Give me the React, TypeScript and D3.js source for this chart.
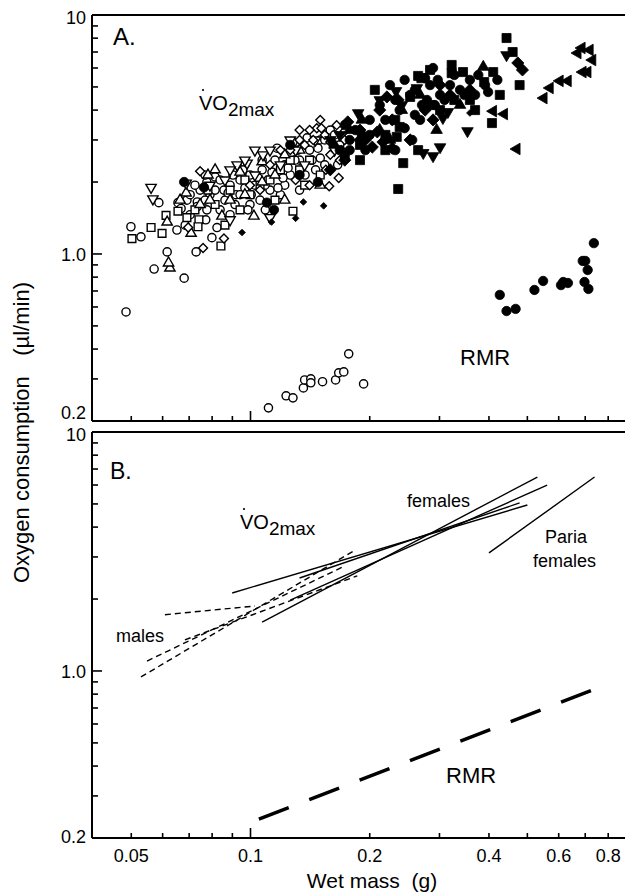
import React from 'react';
import * as d3 from 'd3';

type P = [number, number];

// ---- Panel A: VO2max scatter (wet mass g, oxygen consumption µl/min) ----
const openCircle: P[] = [[0.0485,0.572],[0.0499,1.30],[0.0529,1.18],[0.0587,1.64],[0.0616,1.02],[0.0571,0.865],[0.068,0.792],[0.0652,1.26],[0.0656,1.64],[0.0668,1.55],[0.0691,1.68],[0.0734,1.65],[0.0734,1.58],[0.0776,1.53],[0.0776,2.00],[0.0814,2.10],[0.0823,1.29],[0.0799,1.17],[0.0729,1.02],[0.0857,1.85],[0.0888,1.94],[0.0919,1.77],[0.0941,2.04],[0.0968,1.89],[0.0997,2.14],[0.1026,1.94],[0.107,2.25],[0.1107,2.04],[0.1167,2.77],[0.128,2.94],[0.139,3.06],[0.133,2.47],[0.122,2.36],[0.1153,2.47],[0.126,2.14],[0.141,2.72],[0.150,2.52],[0.159,3.30],[0.150,3.00],[0.1057,1.68],[0.0997,1.61],[0.0914,1.61],[0.0862,1.68],[0.079,1.77],[0.0746,1.85],[0.112,1.85],[0.119,1.77],[0.0888,1.46],[0.133,1.85],[0.146,2.25],[0.0838,1.53],[0.0771,1.39],[0.109,1.53],[0.122,1.94],[0.168,2.86],[0.154,2.36],[0.0704,1.46],[0.0968,2.36],
  [0.0704,1.77],[0.0724,1.94],[0.0768,1.68],[0.0814,1.85],[0.0838,2.04],[0.0878,1.80],[0.0903,2.14],[0.0957,2.25],[0.1004,1.77],[0.1045,2.08],[0.1088,1.94],[0.1133,2.20],[0.1173,1.89],[0.1208,2.08],[0.1244,2.29],[0.1295,2.47],[0.1318,2.72],[0.1373,2.14],[0.143,2.47],[0.148,2.77],[0.154,3.00],[0.163,3.15],[0.166,2.36],[0.107,2.47],[0.0985,1.53],[0.0941,1.77],[0.0768,2.14],[0.0684,1.32]];
const openSquare: P[] = [[0.0502,1.16],[0.0561,1.29],[0.0598,1.22],[0.0612,1.45],[0.0656,1.51],[0.0691,1.42],[0.0741,1.39],[0.0737,1.30],[0.0842,1.08],[0.128,1.51],[0.0997,1.77],[0.0888,1.85],[0.112,2.04],[0.126,2.47],[0.133,2.25],[0.0814,1.61],[0.0941,1.53],[0.1057,1.94],[0.119,2.25],[0.141,2.47],[0.150,2.14],[0.0862,1.32],[0.0781,1.85],[0.0968,2.04],[0.1153,1.68],[0.137,1.94],[0.0724,1.53]];
const openTriUp: P[] = [[0.0616,1.36],[0.0688,1.80],[0.0708,1.22],[0.0847,1.44],[0.102,1.44],[0.0626,0.873],[0.0621,0.917],[0.0781,2.14],[0.0941,2.20],[0.107,2.43],[0.1153,2.14],[0.0888,1.68],[0.079,1.68],[0.0968,1.77],[0.122,2.60],[0.133,2.72],[0.0746,1.61],[0.0664,1.68],[0.0814,2.25],[0.107,2.00],[0.122,1.68],[0.150,1.94]];
const openTriDown: P[] = [[0.0561,1.90],[0.0567,1.70],[0.0688,1.98],[0.0888,1.39],[0.0925,2.36],[0.098,2.40],[0.1075,2.60],[0.112,1.42],[0.119,2.36],[0.130,2.72],[0.1026,2.14],[0.0862,2.04],[0.146,3.00],[0.137,2.36],[0.163,2.72],[0.079,1.94],[0.0968,2.47],[0.1026,2.72],[0.112,2.72],[0.126,3.00],[0.0888,2.25]];
const openDiamond: P[] = [[0.0746,2.22],[0.0696,1.29],[0.0759,1.06],[0.0857,1.16],[0.147,3.36],[0.167,2.08],[0.158,1.92],[0.141,3.30],[0.133,3.00],[0.150,3.64],[0.154,3.15],[0.126,2.72],[0.119,2.72],[0.159,2.60],[0.168,2.47],[0.130,2.04],[0.141,1.94],[0.173,3.00],[0.1057,1.85],[0.0997,1.94],[0.112,2.36],[0.133,3.30],[0.137,2.86],[0.144,3.00],[0.151,3.36],[0.159,2.94],[0.165,3.46],[0.170,2.72],[0.155,2.25],[0.173,3.27]];
const filledCircle: P[] = [[0.068,2.00],[0.0763,1.90],[0.110,1.64],[0.1146,1.53],[0.126,2.86],[0.148,2.00],[0.184,3.30],[0.191,3.15],[0.245,3.36],[0.26,3.82],[0.271,4.20],[0.279,4.41],[0.289,6.00],[0.168,2.72],[0.178,3.00],[0.2,3.64],[0.212,4.20],[0.232,4.41],[0.301,4.63],[0.319,5.09],[0.338,4.86],[0.358,5.35],[0.369,4.63],[0.391,5.09],[0.284,5.09],[0.253,4.63],[0.195,2.72],[0.173,3.46],[0.133,2.14],
  [0.225,5.09],[0.245,5.35],[0.26,4.86],[0.276,5.44],[0.297,5.35],[0.309,4.41],[0.327,5.61],[0.347,4.63],[0.376,5.61],[0.398,4.76],[0.42,5.35],[0.268,3.64],[0.292,4.20],[0.238,4.00],[0.219,3.64],[0.2,3.15],[0.178,2.72],[0.256,3.00],[0.232,2.72]];
const filledSquare: P[] = [[0.206,4.86],[0.253,4.54],[0.265,5.56],[0.322,6.18],[0.238,3.40],[0.234,3.09],[0.265,2.72],[0.243,2.40],[0.236,1.87],[0.443,8.01],[0.459,7.00],[0.478,5.09],[0.407,3.53],[0.27,5.44],[0.322,5.71],[0.344,5.77],[0.41,5.77],[0.389,5.24],[0.189,2.86],[0.219,2.72],[0.301,4.00],[0.358,4.41],[0.327,4.41],[0.284,4.20],[0.232,3.64],[0.173,2.60],[0.284,5.89],[0.369,4.00],[0.426,4.63],[0.219,3.15],[0.189,2.47]];
const filledTriUp: P[] = [[0.191,3.64],[0.295,3.30],[0.387,6.06],[0.241,4.00],[0.178,3.30],[0.212,3.30],[0.268,4.63],[0.338,4.20],[0.225,3.00],[0.163,2.86]];
const filledTriDown: P[] = [[0.187,3.89],[0.233,4.81],[0.315,3.93],[0.306,3.71],[0.273,2.65],[0.289,2.57],[0.301,2.80],[0.353,3.27],[0.443,6.80],[0.263,4.95],[0.241,4.20],[0.212,4.41],[0.168,3.15],[0.159,3.00]];
const filledDiamondSmall: P[] = [[0.0952,1.23],[0.113,1.36],[0.130,1.41],[0.136,1.65],[0.153,1.59],[0.358,3.89]];
const filledDiamond: P[] = [[0.176,3.57],[0.221,4.54],[0.212,4.00],[0.228,3.64],[0.209,3.24],[0.216,2.94],[0.203,2.80],[0.228,2.77],[0.289,3.64],[0.473,6.30],[0.486,5.89],[0.189,3.30],[0.253,3.00],[0.276,4.00],[0.319,4.63],[0.195,3.00],[0.236,4.41],[0.301,5.09],[0.358,4.86],[0.189,3.00],[0.173,2.47],[0.159,2.25]];
const filledTriLeft: P[] = [[0.686,7.28],[0.719,7.14],[0.73,6.48],[0.67,6.93],[0.69,5.77],[0.71,5.77],[0.604,5.30],[0.633,5.30],[0.57,4.95],[0.55,4.49],[0.41,3.96],[0.437,3.85],[0.47,2.75]];

// ---- Panel A: RMR ----
const rmrOpen: P[] = [[0.111,0.227],[0.123,0.255],[0.128,0.250],[0.136,0.275],[0.137,0.297],[0.142,0.300],[0.142,0.289],[0.152,0.292],[0.164,0.297],[0.167,0.318],[0.172,0.321],[0.177,0.382],[0.193,0.286]];
const rmrFilled: P[] = [[0.426,0.674],[0.443,0.577],[0.467,0.589],[0.521,0.707],[0.548,0.771],[0.608,0.741],[0.616,0.763],[0.633,0.756],[0.69,0.935],[0.70,0.935],[0.71,0.857],[0.697,0.763],[0.713,0.714],[0.736,1.11]];

// ---- Panel B: regression lines ----
const femaleLines: P[][] = [
  [[0.0899,2.12],[0.500,4.95]],
  [[0.107,1.60],[0.530,6.48]],
  [[0.126,1.98],[0.561,6.00]],
  [[0.133,2.45],[0.478,5.05]],
];
const maleLines: P[][] = [
  [[0.0608,1.72],[0.1026,1.87]],
  [[0.0529,0.944],[0.184,3.21]],
  [[0.0548,1.10],[0.173,2.75]],
  [[0.0683,1.35],[0.186,2.50]],
];
const pariaLine: P[] = [[0.400,3.12],[0.739,6.48]];
const rmrLine: P[] = [[0.105,0.240],[0.753,0.849]];

// ---- Axes ----
const xTicks = [0.05,0.06,0.07,0.08,0.09,0.1,0.2,0.3,0.4,0.5,0.6,0.7,0.8,0.9];
const xMajor = [0.1];
const xTickLabels = [0.05,0.1,0.2,0.4,0.6,0.8];
const yTicks = [0.3,0.4,0.5,0.6,0.7,0.8,0.9,1,2,3,4,5,6,7,8,9,10];
const yMajor = [1,10];

const FONT = "'Liberation Sans', Arial, Helvetica, sans-serif";

const x = d3.scaleLog().domain([0.1, 0.8]).range([250.5, 608.2]);
const yA = d3.scaleLog().domain([0.2, 10]).range([421, 15]);
const yB = d3.scaleLog().domain([0.2, 10]).range([838, 432]);
const X0 = 92;
const XR = 640;

const tri = d3.symbol().type(d3.symbolTriangle).size(46)()!;
const triBig = d3.symbol().type(d3.symbolTriangle).size(58)()!;
const sq = d3.symbol().type(d3.symbolSquare).size(60)()!;
const sqBig = d3.symbol().type(d3.symbolSquare).size(82)()!;
const diam = d3.symbol().type(d3.symbolSquare).size(40)()!;
const diamBig = d3.symbol().type(d3.symbolSquare).size(74)()!;
const diamSmall = d3.symbol().type(d3.symbolSquare).size(22)()!;

function Markers({ data, kind, filled }: { data: P[]; kind: string; filled: boolean }) {
  const fill = filled ? '#000' : '#fff';
  return (
    <g fill={fill} stroke="#000" strokeWidth={filled ? 0.8 : 1.4}>
      {data.map((d, i) => {
        const cx = x(d[0]);
        const cy = yA(d[1]);
        if (kind === 'circle') return <circle key={i} cx={cx} cy={cy} r={filled ? 4.7 : 4.1} />;
        let path = sq;
        let rot = 0;
        if (kind === 'square') path = filled ? sqBig : sq;
        if (kind === 'triUp') { path = filled ? triBig : tri; rot = 0; }
        if (kind === 'triDown') { path = filled ? triBig : tri; rot = 180; }
        if (kind === 'triLeft') { path = triBig; rot = -90; }
        if (kind === 'diamond') { path = filled ? diamBig : diam; rot = 45; }
        if (kind === 'diamondSmall') { path = diamSmall; rot = 45; }
        return <path key={i} d={path} transform={`translate(${cx},${cy}) rotate(${rot})`} />;
      })}
    </g>
  );
}

function Axes({ y, top, bottom, labels }: { y: d3.ScaleLogarithmic<number, number>; top: number; bottom: number; labels: { v: number; t: string; dy: number }[] }) {
  return (
    <g>
      <line x1={X0} x2={XR} y1={top} y2={top} stroke="#000" strokeWidth={2} />
      <line x1={X0} x2={XR} y1={bottom} y2={bottom} stroke="#000" strokeWidth={2} />
      <line x1={X0} x2={X0} y1={top} y2={bottom} stroke="#000" strokeWidth={2} />
      {yTicks.map((t) => (
        <line key={'y' + t} x1={X0} x2={X0 + (yMajor.includes(t) ? 10 : 6)} y1={y(t)} y2={y(t)} stroke="#000" strokeWidth={1.6} />
      ))}
      {xTicks.map((t) => (
        <line key={'x' + t} x1={x(t)} x2={x(t)} y1={bottom} y2={bottom - (xMajor.includes(t) ? 10 : 5)} stroke="#000" strokeWidth={1.6} />
      ))}
      {labels.map((l) => (
        <text key={l.t} x={86} y={y(l.v) + l.dy} textAnchor="end" fontSize={18} fontFamily={FONT}>{l.t}</text>
      ))}
    </g>
  );
}

function VO2({ px, py }: { px: number; py: number }) {
  return (
    <g fontFamily={FONT}>
      <text x={px} y={py} fontSize={20}>
        VO<tspan fontSize={19} dy={6}>2max</tspan>
      </text>
      <circle cx={px + 4} cy={py - 20} r={1.1} fill="#000" />
    </g>
  );
}

export default function App() {
  const lB = d3.line<P>().x((d) => x(d[0])).y((d) => yB(d[1]));
  return (
    <svg width={625} height={896} style={{ position: 'absolute', left: 0, top: 0, background: '#fff' }}>
      <rect x={0} y={0} width={625} height={896} fill="#fff" />
      {/* Panel A */}
      <Axes y={yA} top={15} bottom={421} labels={[{ v: 10, t: '10', dy: 9 }, { v: 1, t: '1.0', dy: 7 }, { v: 0.2, t: '0.2', dy: -2 }]} />
      <Markers data={openCircle} kind="circle" filled={false} />
      <Markers data={openSquare} kind="square" filled={false} />
      <Markers data={openTriUp} kind="triUp" filled={false} />
      <Markers data={openTriDown} kind="triDown" filled={false} />
      <Markers data={openDiamond} kind="diamond" filled={false} />
      <Markers data={filledCircle} kind="circle" filled={true} />
      <Markers data={filledSquare} kind="square" filled={true} />
      <Markers data={filledTriUp} kind="triUp" filled={true} />
      <Markers data={filledTriDown} kind="triDown" filled={true} />
      <Markers data={filledDiamond} kind="diamond" filled={true} />
      <Markers data={filledDiamondSmall} kind="diamondSmall" filled={true} />
      <Markers data={filledTriLeft} kind="triLeft" filled={true} />
      <Markers data={rmrOpen} kind="circle" filled={false} />
      <Markers data={rmrFilled} kind="circle" filled={true} />
      <text x={113} y={45} fontSize={24} fontFamily={FONT}>A.</text>
      <VO2 px={199} py={110} />
      <text x={460} y={365} fontSize={22} fontFamily={FONT}>RMR</text>

      {/* Panel B */}
      <Axes y={yB} top={432} bottom={838} labels={[{ v: 10, t: '10', dy: 9 }, { v: 1, t: '1.0', dy: 7 }, { v: 0.2, t: '0.2', dy: 5 }]} />
      {femaleLines.map((l, i) => (
        <path key={'f' + i} d={lB(l)!} fill="none" stroke="#000" strokeWidth={1.4} />
      ))}
      {maleLines.map((l, i) => (
        <path key={'m' + i} d={lB(l)!} fill="none" stroke="#000" strokeWidth={1.4} strokeDasharray="6,4" />
      ))}
      <path d={lB(pariaLine)!} fill="none" stroke="#000" strokeWidth={1.4} />
      <path d={lB(rmrLine)!} fill="none" stroke="#000" strokeWidth={3.5} strokeDasharray="32,22" />
      <text x={110} y={479} fontSize={23} fontFamily={FONT}>B.</text>
      <VO2 px={240} py={529} />
      <text x={407} y={507} fontSize={18} fontFamily={FONT}>females</text>
      <text x={545} y={543} fontSize={18} fontFamily={FONT}>Paria</text>
      <text x={533} y={567} fontSize={18} fontFamily={FONT}>females</text>
      <text x={116} y={642} fontSize={18} fontFamily={FONT}>males</text>
      <text x={446} y={783} fontSize={22} fontFamily={FONT}>RMR</text>

      {/* X axis labels */}
      {xTickLabels.map((t) => (
        <text key={'xl' + t} x={x(t)} y={862} textAnchor="middle" fontSize={18} fontFamily={FONT}>{String(t)}</text>
      ))}
      <text x={372} y={888} textAnchor="middle" fontSize={21} fontFamily={FONT} style={{ whiteSpace: 'pre' }}>{'Wet mass  (g)'}</text>
      <text transform="translate(29,583) rotate(-90)" fontSize={22} fontFamily={FONT}>Oxygen consumption</text>
      <text transform="translate(29,282) rotate(-90)" textAnchor="end" fontSize={22} fontFamily={FONT}>(µl/min)</text>
    </svg>
  );
}
